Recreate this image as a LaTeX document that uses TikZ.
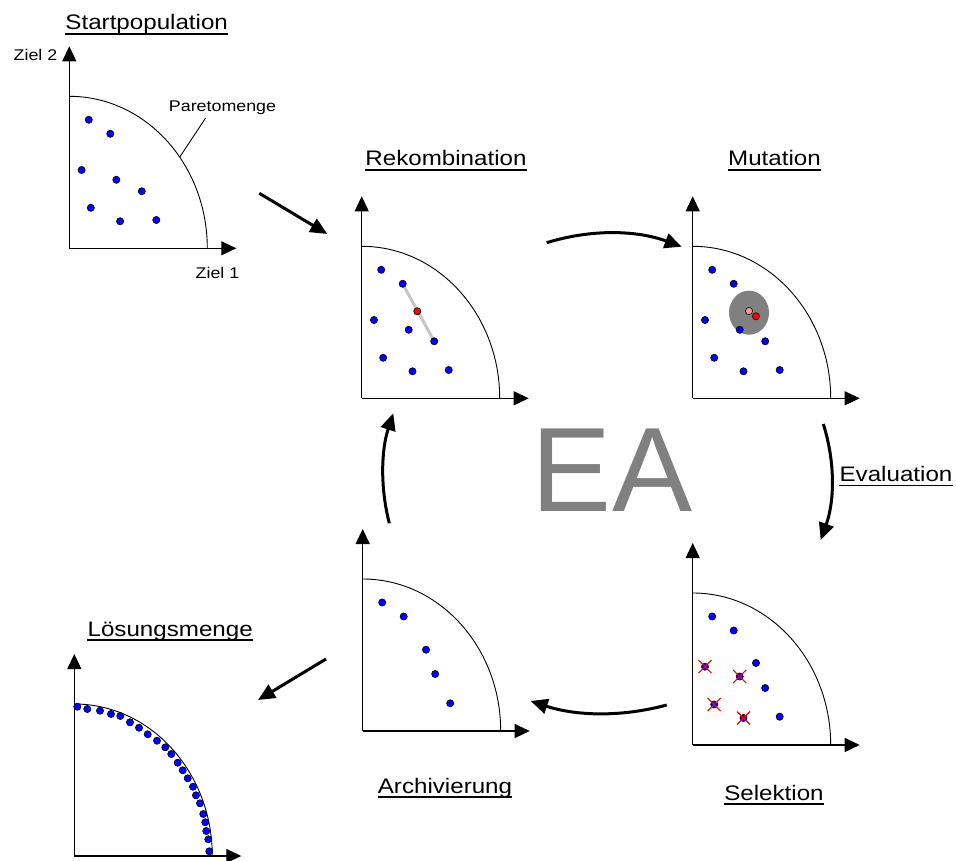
\documentclass[tikz,border=0pt]{standalone}
\usepackage{fontspec}
\setmainfont{Liberation Sans}[FakeStretch=1.15]
\newfontfamily\eafont{Liberation Sans}
\usetikzlibrary{arrows.meta}
\definecolor{dotblue}{RGB}{0,0,255}
\definecolor{eagray}{RGB}{128,128,128}
\definecolor{pinkdot}{RGB}{255,150,150}
\newcommand\pdot[3][dotblue]{\filldraw[fill=#1,draw=black,line width=0.6pt] (#2,#3) circle[radius=3.6];}
\newcommand\xcross[2]{\draw[red,line width=1.1pt] (#1-6.5,#2-6.5) -- (#1+6.5,#2+6.5) (#1-6.5,#2+6.5) -- (#1+6.5,#2-6.5);}
\newcommand\axes{%
  \draw[axis] (0,0) -- (0,202);
  \draw[axis] (0,0) -- (167,0);
  \draw[front] (0,152) arc[start angle=90,end angle=0,x radius=138,y radius=152];}
\newcommand\basedots{%
  \pdot{19.5}{128.5}\pdot{41}{114.5}\pdot{12.3}{78.3}\pdot{47}{68.5}%
  \pdot{72.5}{57}\pdot{21.5}{40.5}\pdot{50.8}{27}\pdot{87}{28.3}}
\newcommand\utitle[4]{%
  \node[title] (#1) at (#2,-#3) {#4};
  \draw[line width=1.4pt] ([yshift=-4pt]#1.base west) -- ([yshift=-4pt]#1.base east);}
\begin{document}
\begin{tikzpicture}[x=1pt,y=1pt,
  axis/.style={line width=1.1pt,-{Triangle[length=15pt,width=14pt]}},
  front/.style={line width=0.9pt},
  flow/.style={line width=3pt,-{Triangle[length=17pt,width=15pt]}},
  title/.style={font=\fontsize{21}{25}\selectfont,inner sep=0pt,anchor=base},
  small/.style={font=\fontsize{15.5}{18}\selectfont,inner sep=0pt,anchor=base}]
\useasboundingbox (0,0) rectangle (956,-861);

% Startpopulation
\begin{scope}[shift={(69.3,-248.3)}]
  \axes
  \basedots
\end{scope}
\utitle{tstart}{146.7}{30}{Startpopulation}
\node[small] (z2) at (35.5,-61) {Ziel 2};
\node[small] (z1) at (217.5,-278) {Ziel 1};
\node[small] (pm) at (222.5,-111.7) {Paretomenge};
\coordinate (pmtip) at (180,-156.7);
\draw[front] ([xshift=-17pt,yshift=-3pt]pm.south) -- (pmtip);

% Rekombination
\begin{scope}[shift={(361.7,-398.3)}]
  \axes
  \draw[gray!45,line width=3pt] (41,114.5) -- (72.5,57);
  \basedots
  \pdot[red]{55.6}{87}
\end{scope}
\utitle{trek}{446}{166}{Rekombination}

% Mutation
\begin{scope}[shift={(692.7,-398.3)}]
  \axes
  \fill[eagray] (56.3,85.6) ellipse[x radius=20,y radius=22];
  \basedots
  \pdot[pinkdot]{56.3}{87.3}
  \pdot[red]{63.3}{82}
\end{scope}
\utitle{tmut}{774.5}{166}{Mutation}

% Selektion
\begin{scope}[shift={(692.7,-745)}]
  \axes
  \basedots
  \pdot{63.3}{82}
  \xcross{12.3}{78.3}\xcross{47}{68.5}\xcross{21.5}{40.5}\xcross{50.8}{27}
\end{scope}
\utitle{tsel}{774}{800}{Selektion}

% Archivierung
\begin{scope}[shift={(362.7,-731)}]
  \axes
  \pdot{19.5}{128.5}\pdot{41}{114.5}\pdot{63.3}{81.3}\pdot{72.5}{57}\pdot{87.5}{27.7}
\end{scope}
\utitle{tarch}{445}{793}{Archivierung}

% Loesungsmenge
\begin{scope}[shift={(74.3,-856)}]
  \axes
  \foreach \px/\py in {3/149.3,13/147,25.7/145.3,36.7/142,46/140,55.7/133.7,64.7/128.3,
    73.4/121.7,82.7/115.3,91/108.7,97/102,103.4/93.3,108.4/85.7,113.4/77.7,118.7/69.3,
    121.7/60.7,125.7/52.7,129/42,131/33.7,132/25,134/16.7,135/4.7}
    {\pdot{\px}{\py}}
\end{scope}
\utitle{tloes}{170.2}{636}{Lösungsmenge}

% Evaluation label
\utitle{teval}{896}{481.7}{Evaluation}

% EA
\node[text=eagray,font=\eafont\fontsize{120}{120}\selectfont,inner sep=0pt] (ea) at (612,-470) {EA};

% flow arrows
\coordinate (a1s) at (259.3,-193.3); \coordinate (a1e) at (327.3,-234);
\draw[flow] (a1s) -- (a1e);
\coordinate (a2s) at (546.7,-242.7); \coordinate (a2e) at (681.7,-246.7);
\draw[flow] (a2s) .. controls (591.7,-228.8) and (636.7,-230.2) .. (a2e);
\coordinate (a3s) at (823.3,-424); \coordinate (a3e) at (820.7,-540);
\draw[flow] (a3s) .. controls (835.5,-462.7) and (834.5,-501.3) .. (a3e);
\coordinate (a4s) at (666.7,-705); \coordinate (a4e) at (530.7,-701);
\draw[flow] (a4s) .. controls (621.3,-717.3) and (576,-716) .. (a4e);
\coordinate (a5s) at (389.3,-523.3); \coordinate (a5e) at (393.3,-413.3);
\draw[flow] (a5s) .. controls (380,-486.7) and (381.3,-450) .. (a5e);
\coordinate (a6s) at (326,-659); \coordinate (a6e) at (258,-700);
\draw[flow] (a6s) -- (a6e);
\end{tikzpicture}
\end{document}
